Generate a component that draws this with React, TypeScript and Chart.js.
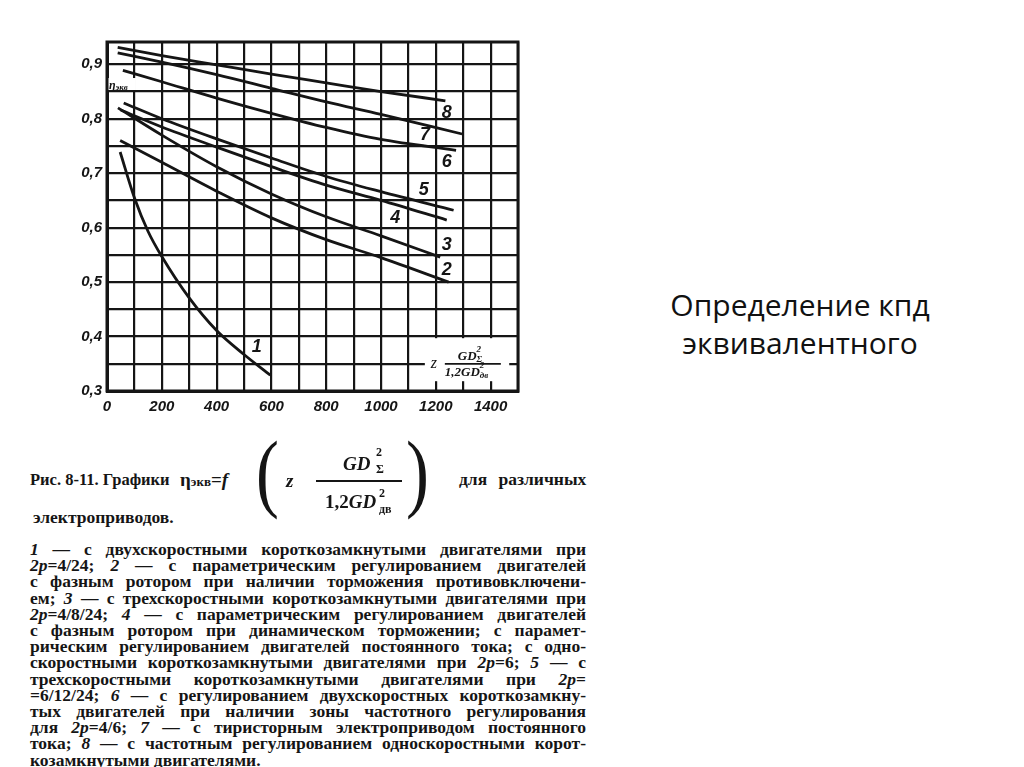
import React, { useEffect, useRef } from 'react';
import { Chart, registerables } from 'chart.js';

Chart.register(...registerables);

// ---------- data ----------
const xGridValues = [0, 100, 200, 300, 400, 500, 600, 700, 800, 900, 1000, 1100, 1200, 1300, 1400, 1500];
const xTickLabels = ['0', '200', '400', '600', '800', '1000', '1200', '1400'];
const yGridValues = [0.3, 0.35, 0.4, 0.45, 0.5, 0.55, 0.6, 0.65, 0.7, 0.75, 0.8, 0.85, 0.9];
const yTickLabels = ['0,3', '0,4', '0,5', '0,6', '0,7', '0,8', '0,9'];

const curve1X = [48, 100, 150, 200, 300, 400, 500, 596];
const curve1Y = [0.739, 0.655, 0.593, 0.547, 0.471, 0.411, 0.367, 0.329];
const curve2X = [48, 200, 400, 600, 800, 1000, 1247];
const curve2Y = [0.76, 0.72, 0.667, 0.618, 0.578, 0.545, 0.5];
const curve3X = [40, 200, 400, 600, 800, 1000, 1216];
const curve3Y = [0.82, 0.77, 0.712, 0.662, 0.62, 0.585, 0.546];
const curve4X = [50, 200, 400, 600, 800, 1000, 1240];
const curve4Y = [0.816, 0.785, 0.748, 0.712, 0.678, 0.65, 0.614];
const curve5X = [61, 200, 400, 600, 800, 1000, 1265];
const curve5Y = [0.829, 0.8, 0.763, 0.728, 0.694, 0.666, 0.632];
const curve6X = [58, 200, 400, 600, 800, 1000, 1274];
const curve6Y = [0.889, 0.868, 0.838, 0.81, 0.784, 0.762, 0.742];
const curve7X = [39, 200, 400, 600, 800, 1000, 1296];
const curve7Y = [0.921, 0.904, 0.881, 0.856, 0.831, 0.808, 0.772];
const curve8X = [39, 200, 400, 600, 800, 1000, 1235];
const curve8Y = [0.931, 0.916, 0.899, 0.882, 0.866, 0.85, 0.833];

const curveLabelText = ['1', '2', '3', '4', '5', '6', '7', '8'];
const curveLabelX = [547, 1240, 1240, 1052, 1156, 1240, 1161, 1240];
const curveLabelY = [0.381, 0.522, 0.568, 0.617, 0.669, 0.72, 0.77, 0.811];

const etaLabelX = 18;
const etaLabelY = 0.862;

const captionLines = [
  '|1| — с двухскоростными короткозамкнутыми двигателями при',
  '|2p|=4/24; |2| — с параметрическим регулированием двигателей',
  'с фазным ротором при наличии торможения противовключени-',
  'ем; |3| — с трехскоростными короткозамкнутыми двигателями при',
  '|2p|=4/8/24; |4| — с параметрическим регулированием двигателей',
  'с фазным ротором при динамическом торможении; с парамет-',
  'рическим регулированием двигателей постоянного тока; с одно-',
  'скоростными короткозамкнутыми двигателями при |2p|=6; |5| — с',
  'трехскоростными короткозамкнутыми двигателями при |2p|=',
  '=6/12/24; |6| — с регулированием двухскоростных короткозамкну-',
  'тых двигателей при наличии зоны частотного регулирования',
  'для |2p|=4/6; |7| — с тиристорным электроприводом постоянного',
  'тока; |8| — с частотным регулированием односкоростными корот-',
  'козамкнутыми двигателями.',
];

// ---------- helpers ----------
const INK = '#151515';
const SERIF = '"Liberation Serif", "DejaVu Serif", serif';
const SANS = '"Liberation Sans", "DejaVu Sans", sans-serif';

const pts = (xs: number[], ys: number[]) => xs.map((x, i) => ({ x, y: ys[i] }));

function drawParts(ctx: CanvasRenderingContext2D, parts: { t: string; size: number; dy: number; dx?: number; italic?: boolean }[], x: number, baseline: number) {
  let cx = x;
  for (const p of parts) {
    ctx.font = `${p.italic === false ? '' : 'italic '}bold ${p.size}px ${SERIF}`;
    ctx.fillText(p.t, cx + (p.dx || 0), baseline + p.dy);
    if (p.dx === undefined) cx += ctx.measureText(p.t).width;
  }
}

const overlayPlugin = {
  id: 'overlay',
  afterDatasetsDraw(chart: any) {
    const { ctx } = chart;
    const xs = chart.scales.x;
    const ys = chart.scales.y;
    ctx.save();
    ctx.fillStyle = INK;
    ctx.textBaseline = 'middle';
    ctx.textAlign = 'center';
    ctx.font = `italic bold 18px ${SANS}`;
    curveLabelText.forEach((t, i) => {
      ctx.fillText(t, xs.getPixelForValue(curveLabelX[i]), ys.getPixelForValue(curveLabelY[i]));
    });

    // eta label
    const ex = xs.getPixelForValue(etaLabelX);
    const ey = ys.getPixelForValue(etaLabelY);
    ctx.fillStyle = '#fff';
    ctx.fillRect(ex - 4, ey - 7, 28, 12);
    ctx.fillStyle = INK;
    ctx.textAlign = 'left';
    ctx.textBaseline = 'alphabetic';
    drawParts(ctx, [
      { t: 'η', size: 12, dy: 0 },
      { t: 'экв', size: 9, dy: 1 },
    ], ex - 3, ey + 4);

    // formula box
    const bx0 = xs.getPixelForValue(1160);
    const bx1 = xs.getPixelForValue(1468);
    const by0 = ys.getPixelForValue(0.397);
    const by1 = ys.getPixelForValue(0.318);
    ctx.fillStyle = '#fff';
    ctx.fillRect(bx0, by0, bx1 - bx0, by1 - by0);
    ctx.fillStyle = INK;
    const barY = ys.getPixelForValue(0.35);
    ctx.font = `italic 16px ${SERIF}`;
    ctx.fillText('z', bx0 + 6, barY + 4);
    ctx.strokeStyle = INK;
    ctx.lineWidth = 1.8;
    ctx.beginPath();
    ctx.moveTo(bx0 + 20, barY);
    ctx.lineTo(bx0 + 76, barY);
    ctx.stroke();
    drawParts(ctx, [
      { t: 'GD', size: 13, dy: 0 },
      { t: '2', size: 9, dy: -8, dx: 0 },
      { t: 'Σ', size: 9, dy: 2 },
    ], bx0 + 33, barY - 4);
    drawParts(ctx, [
      { t: '1,2GD', size: 13, dy: 0 },
      { t: '2', size: 9, dy: -8, dx: 0 },
      { t: 'дв', size: 9, dy: 2 },
    ], bx0 + 20, barY + 12);
    ctx.restore();
  },
  afterDraw(chart: any) {
    const { ctx, chartArea } = chart;
    ctx.save();
    ctx.strokeStyle = INK;
    ctx.lineWidth = 3;
    ctx.strokeRect(chartArea.left, chartArea.top, chartArea.right - chartArea.left, chartArea.bottom - chartArea.top);
    ctx.restore();
  },
};

function ChartBox() {
  const ref = useRef<HTMLCanvasElement | null>(null);
  useEffect(() => {
    if (!ref.current) return;
    const series = [
      pts(curve1X, curve1Y), pts(curve2X, curve2Y), pts(curve3X, curve3Y), pts(curve4X, curve4Y),
      pts(curve5X, curve5Y), pts(curve6X, curve6Y), pts(curve7X, curve7Y), pts(curve8X, curve8Y),
    ];
    const tickFont = { family: SANS, size: 15, weight: 'bold' as const, style: 'italic' as const };
    const chart = new Chart(ref.current, {
      type: 'line',
      data: {
        datasets: series.map((d, i) => ({
          label: curveLabelText[i],
          data: d,
          borderColor: INK,
          borderWidth: 2.8,
          pointRadius: 0,
          fill: false,
          tension: 0.4,
          cubicInterpolationMode: 'monotone' as const,
        })),
      },
      options: {
        responsive: false,
        animation: false,
        layout: { padding: { left: 0, right: 22, top: 42, bottom: 0 } },
        plugins: { legend: { display: false }, tooltip: { enabled: false }, title: { display: false } },
        scales: {
          x: {
            type: 'linear',
            min: 0,
            max: 1500,
            afterBuildTicks: (s: any) => { s.ticks = xGridValues.map((v) => ({ value: v })); },
            afterFit: (s: any) => { s.height = 39; },
            grid: { color: INK, lineWidth: 2.2, drawTicks: false },
            border: { display: true, color: INK, width: 3 },
            ticks: {
              autoSkip: false,
              maxRotation: 0,
              padding: 7,
              color: INK,
              font: tickFont,
              callback: (v: any) => {
                const n = Number(v);
                return n % 200 === 0 && n <= 1400 ? xTickLabels[n / 200] : '';
              },
            },
          },
          y: {
            type: 'linear',
            min: 0.3,
            max: 0.941,
            afterBuildTicks: (s: any) => { s.ticks = yGridValues.map((v) => ({ value: v })); },
            afterFit: (s: any) => { s.width = 107; },
            grid: { color: INK, lineWidth: 2.2, drawTicks: false },
            border: { display: true, color: INK, width: 3 },
            ticks: {
              autoSkip: false,
              padding: 5,
              color: INK,
              font: tickFont,
              callback: (v: any) => {
                const k = Math.round(Number(v) * 100);
                return k % 10 === 0 ? yTickLabels[(k - 30) / 10] : '';
              },
            },
          },
        },
      },
      plugins: [overlayPlugin],
    });
    return () => chart.destroy();
  }, []);
  return <canvas ref={ref} width={540} height={430} style={{ width: 540, height: 430, display: 'block' }} />;
}

function T(props: { x: number; baseline: number; size: number; italic?: boolean; bold?: boolean; family?: string; children: any; style?: any }) {
  const { x, baseline, size, italic, bold = true, family = SERIF, children, style } = props;
  return (
    <div
      style={{
        position: 'absolute',
        left: x,
        top: baseline - 0.8375 * size,
        fontFamily: family,
        fontSize: size,
        lineHeight: `${size}px`,
        fontWeight: bold ? 'bold' : 'normal',
        fontStyle: italic ? 'italic' : 'normal',
        whiteSpace: 'nowrap',
        color: INK,
        ...style,
      }}
    >
      {children}
    </div>
  );
}

function CaptionLine({ text, last, top }: { text: string; last: boolean; top: number }) {
  const segs = text.split('|');
  return (
    <div
      style={{
        position: 'absolute',
        left: 30,
        top,
        width: 556,
        fontFamily: SERIF,
        fontWeight: 'bold',
        fontSize: 17.5,
        lineHeight: '16px',
        textAlign: 'justify',
        textAlignLast: last ? 'left' : 'justify',
        color: INK,
        whiteSpace: 'nowrap',
      } as any}
    >
      {segs.map((s, i) => (i % 2 === 1 ? <i key={i}>{s}</i> : <span key={i}>{s}</span>))}
    </div>
  );
}

export default function App() {
  return (
    <div style={{ position: 'absolute', left: 0, top: 0, width: 1024, height: 767, background: '#fff', overflow: 'hidden' }}>
      <div style={{ position: 'absolute', left: 0, top: 0 }}>
        <ChartBox />
      </div>

      {/* caption title */}
      <T x={30} baseline={486} size={16.5}>Рис. 8-11. Графики</T>
      <T x={180} baseline={486} size={19}>
        η<span style={{ fontSize: 13 }}>экв</span>=<i>f</i>
      </T>
      <T x={256} baseline={501} size={86} bold={false} style={{ transform: 'scaleX(0.8)', transformOrigin: 'left center' }}>(</T>
      <T x={286} baseline={487} size={19} italic>z</T>
      <T x={343} baseline={470} size={19} italic>GD</T>
      <T x={376} baseline={456} size={12}>2</T>
      <T x={376} baseline={473} size={12}>Σ</T>
      <div style={{ position: 'absolute', left: 316, top: 480, width: 86, height: 2, background: INK }} />
      <T x={325} baseline={508} size={19}>1,2<i>GD</i></T>
      <T x={379} baseline={497} size={12}>2</T>
      <T x={379} baseline={513} size={12}>дв</T>
      <T x={406} baseline={501} size={86} bold={false} style={{ transform: 'scaleX(0.8)', transformOrigin: 'left center' }}>)</T>
      <T x={459} baseline={486} size={17.5} style={{ wordSpacing: 7 }}>для различных</T>
      <T x={33} baseline={524} size={17.5}>электроприводов.</T>

      {captionLines.map((l, i) => (
        <CaptionLine key={i} text={l} last={i === captionLines.length - 1} top={541 + i * 16.2} />
      ))}

      {/* slide title */}
      <div
        style={{
          position: 'absolute',
          left: 600,
          top: 286,
          width: 400,
          textAlign: 'center',
          fontFamily: '"Open Sans", sans-serif',
          fontSize: 30,
          lineHeight: '38px',
          color: '#111',
        }}
      >
        Определение кпд
        <br />
        эквивалентного
      </div>
    </div>
  );
}
